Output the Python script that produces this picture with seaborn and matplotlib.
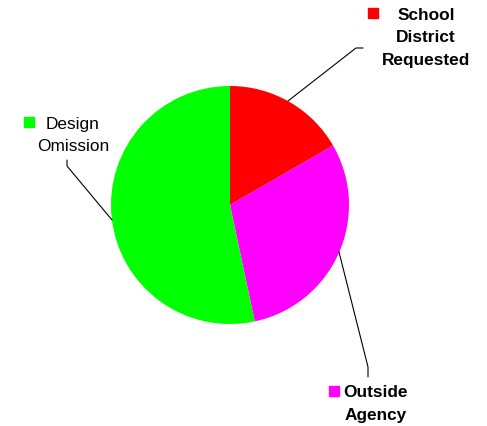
import matplotlib
matplotlib.use('Agg')
import matplotlib.pyplot as plt
import seaborn as sns

sns.set_style("white")
plt.rcParams['font.family'] = ['Liberation Sans', 'DejaVu Sans']

# slice data, clockwise from 12 o'clock
categories = ['School\nDistrict\nRequested', 'Outside\nAgency', 'Design\nOmission']
counts = [5, 9, 16]
colors = ['#FF0000', '#FF00FF', '#00FF00']
bold = [True, True, False]

W, H = 487, 427
fig = plt.figure(figsize=(W / 100, H / 100), dpi=100)
ax = fig.add_axes([0, 0, 1, 1])

cx, cy, r = 230, H - 206, 119
ax.pie(counts, colors=colors, startangle=90, counterclock=False,
       center=(cx, cy), radius=r, frame=True,
       wedgeprops={'linewidth': 0})
ax.set_xlim(0, W)
ax.set_ylim(0, H)
ax.set_aspect('equal')
ax.axis('off')

# label boxes: (marker x, marker y, text center x, first line y)
label_pos = [(373, 14, 426, 14), (334, 392, 376, 392), (29, 123, 73, 123)]
# leader lines in pixel coords (top-left origin)
leaders = [[(288, 102), (356, 49), (363, 49)],
           [(339, 253), (368, 368), (368, 378)],
           [(112, 221), (67, 167), (67, 161)]]

for cat, col, b, (mx, my, tx, ty), pts in zip(categories, colors, bold, label_pos, leaders):
    ax.plot([mx], [H - my], marker='s', markersize=7.5, color=col, linestyle='none')
    ax.text(tx, H - ty + 6.5, cat, ha='center', va='top', fontsize=12.4,
            fontweight='bold' if b else 'normal', linespacing=1.66, color='black')
    ax.plot([p[0] for p in pts], [H - p[1] for p in pts], color='black', linewidth=0.8)

fig.savefig('out.png', dpi=100)
